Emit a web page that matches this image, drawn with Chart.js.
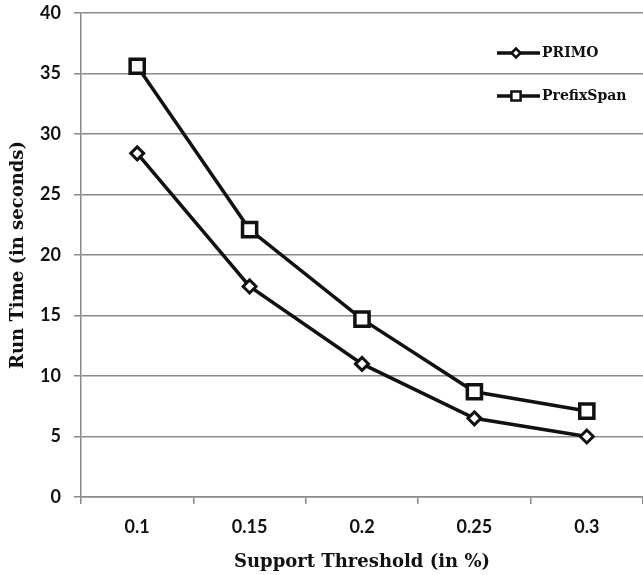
<!DOCTYPE html>
<html>
<head>
<meta charset="utf-8">
<script src="https://cdn.jsdelivr.net/npm/chart.js@4.4.1/dist/chart.umd.min.js"></script>
<style>
  html, body { margin: 0; padding: 0; background: #fff; overflow: hidden; }
  #wrap { width: 643px; height: 575px; }
  #c { display: block; }
</style>
</head>
<body>
<div id="wrap"><canvas id="c" width="643" height="575"></canvas></div>
<script>
// Support thresholds (in %) on the x axis
const thresholds = ['0.1', '0.15', '0.2', '0.25', '0.3'];
// Run times in seconds
const primoTimes = [28.4, 17.4, 11.0, 6.5, 5.0];
const prefixSpanTimes = [35.6, 22.1, 14.7, 8.7, 7.1];
// Y axis range
const yTicks = { min: 0, max: 40, step: 5 };

const GRID = '#8a8a8a';
const INK = '#111';
const SERIF = "'DejaVu Serif', 'Liberation Serif', serif";
const SANS = "Lato, 'Open Sans', sans-serif";

// Legend drawn inside the plot area: a short line with the series marker, then the name
const insideLegend = {
  id: 'insideLegend',
  afterDraw(chart) {
    const ctx = chart.ctx;
    const entries = [
      { ds: chart.data.datasets[0], y: 53, r: 4.5 },
      { ds: chart.data.datasets[1], y: 96, r: 6.5 }
    ];
    ctx.save();
    entries.forEach(e => {
      const x0 = 497, x1 = 540, xm = 516;
      ctx.strokeStyle = e.ds.borderColor;
      ctx.lineWidth = 3.5;
      ctx.beginPath();
      ctx.moveTo(x0, e.y);
      ctx.lineTo(x1, e.y);
      ctx.stroke();
      ctx.fillStyle = '#fff';
      ctx.strokeStyle = INK;
      ctx.lineWidth = 2.5;
      ctx.beginPath();
      if (e.ds.pointStyle === 'rectRot') {
        ctx.moveTo(xm - e.r, e.y); ctx.lineTo(xm, e.y - e.r);
        ctx.lineTo(xm + e.r, e.y); ctx.lineTo(xm, e.y + e.r);
      } else {
        const h = e.r * Math.SQRT1_2;
        ctx.rect(xm - h, e.y - h, 2 * h, 2 * h);
      }
      ctx.closePath();
      ctx.fill();
      ctx.stroke();
      ctx.fillStyle = INK;
      ctx.font = 'bold 14px ' + SERIF;
      ctx.textBaseline = 'middle';
      ctx.textAlign = 'left';
      ctx.fillText(e.ds.label, 542, e.y);
    });
    ctx.restore();
  }
};

new Chart(document.getElementById('c'), {
  type: 'line',
  data: {
    labels: thresholds,
    datasets: [
      {
        label: 'PRIMO',
        data: primoTimes,
        borderColor: INK,
        borderWidth: 3.5,
        pointStyle: 'rectRot',
        pointRadius: 6.5,
        pointBorderWidth: 3,
        pointBackgroundColor: '#fff',
        pointBorderColor: INK,
        tension: 0
      },
      {
        label: 'PrefixSpan',
        data: prefixSpanTimes,
        borderColor: INK,
        borderWidth: 3.5,
        pointStyle: 'rect',
        pointRadius: 10,
        pointBorderWidth: 3.5,
        pointBackgroundColor: '#fff',
        pointBorderColor: INK,
        tension: 0
      }
    ]
  },
  options: {
    responsive: false,
    animation: false,
    devicePixelRatio: 1,
    layout: { autoPadding: false, padding: { top: 13, right: 0, bottom: 0, left: 0 } },
    plugins: {
      legend: { display: false },
      tooltip: { enabled: false }
    },
    scales: {
      x: {
        type: 'category',
        offset: true,
        grid: {
          display: true,
          offset: true,
          drawOnChartArea: false,
          drawTicks: true,
          tickLength: 7,
          color: GRID,
          lineWidth: 1.5
        },
        border: { display: true, color: GRID, width: 1.5 },
        ticks: {
          color: INK,
          font: { family: SANS, size: 18, weight: 'bold' },
          padding: 12,
          maxRotation: 0
        },
        title: {
          display: true,
          text: 'Support Threshold (in %)',
          color: INK,
          font: { family: SERIF, size: 18, weight: 'bold' },
          padding: { top: 0, bottom: 2 }
        },
        afterFit(scale) {
          scale.height = 78;
          scale.paddingLeft = 0;
          scale.paddingRight = 0;
        }
      },
      y: {
        min: yTicks.min,
        max: yTicks.max,
        grid: {
          color: GRID,
          lineWidth: 1.5,
          drawTicks: true,
          tickLength: 7
        },
        border: { display: true, color: GRID, width: 1.5 },
        ticks: {
          stepSize: yTicks.step,
          color: INK,
          font: { family: SANS, size: 18, weight: 'bold' },
          padding: 13
        },
        title: {
          display: true,
          text: 'Run Time (in seconds)',
          color: INK,
          font: { family: SERIF, size: 18, weight: 'bold' },
          padding: { top: 8, bottom: 0 }
        },
        afterFit(scale) {
          scale.width = 81;
          scale.paddingTop = 0;
          scale.paddingBottom = 0;
        }
      }
    }
  },
  plugins: [insideLegend]
});
</script>
</body>
</html>
